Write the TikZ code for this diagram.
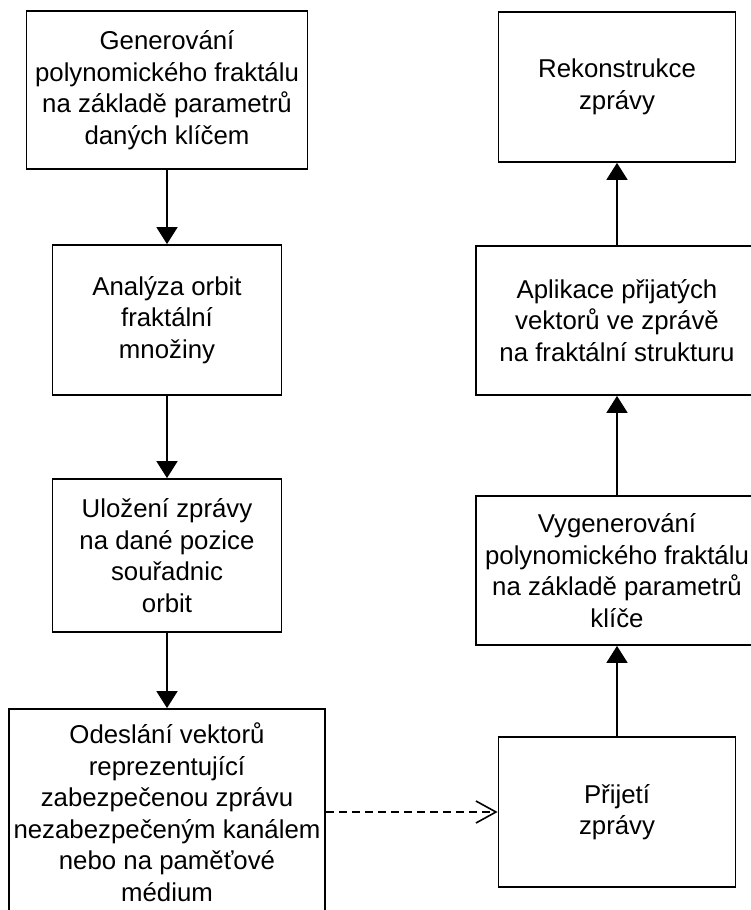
\documentclass[tikz,border=0pt]{standalone}
\usepackage{fontspec}
\setmainfont{Liberation Sans}
\usetikzlibrary{arrows.meta}
\begin{document}
\begin{tikzpicture}[x=1pt,y=-1pt,
  procbox/.style={draw, line width=1.8pt, align=center, inner sep=0pt,
    font=\fontsize{25.8}{31.5}\selectfont},
  flow/.style={line width=1.8pt, -{Triangle[length=17pt,width=21pt]}},
  msgflow/.style={line width=1.6pt, dash pattern=on 8pt off 5pt,
    -{Straight Barb[length=20pt,width=22pt,line width=1.6pt]}}]
\useasboundingbox (0,0) rectangle (751,910);
\clip (0,0) rectangle (751,910);

% sender side
\node[procbox, minimum width=281pt, minimum height=158pt] (gen) at (167,90)
  {Generování\\polynomického fraktálu\\na základě parametrů\\daných klíčem};
\node[procbox, minimum width=229pt, minimum height=150pt] (orb) at (167,320)
  {Analýza orbit\\fraktální\\množiny};
\node[procbox, minimum width=229pt, minimum height=153pt] (ulo) at (167,555.5)
  {Uložení zprávy\\na dané pozice\\souřadnic\\orbit};
\node[procbox, minimum width=316pt, minimum height=206pt] (ode) at (167,812)
  {Odeslání vektorů\\reprezentující\\zabezpečenou zprávu\\nezabezpečeným kanálem\\nebo na paměťové\\médium};

% receiver side
\node[procbox, minimum width=237pt, minimum height=150pt] (rek) at (617,87)
  {Rekonstrukce\\zprávy};
\node[procbox, minimum width=282pt, minimum height=149pt] (apl) at (617,320.5)
  {Aplikace přijatých\\vektorů ve zprávě\\na fraktální strukturu};
\node[procbox, minimum width=282pt, minimum height=149pt] (vyg) at (617,570.5)
  {Vygenerování\\polynomického fraktálu\\na základě parametrů\\klíče};
\node[procbox, minimum width=237pt, minimum height=150pt] (pri) at (617,812)
  {Přijetí\\zprávy};

% connectors
\draw[flow] (gen) -- (orb);
\draw[flow] (orb) -- (ulo);
\draw[flow] (ulo) -- (ode);
\draw[msgflow] (ode.east) -- (pri.west);
\draw[flow] (pri) -- (vyg);
\draw[flow] (vyg) -- (apl);
\draw[flow] (apl) -- (rek);
\end{tikzpicture}
\end{document}
